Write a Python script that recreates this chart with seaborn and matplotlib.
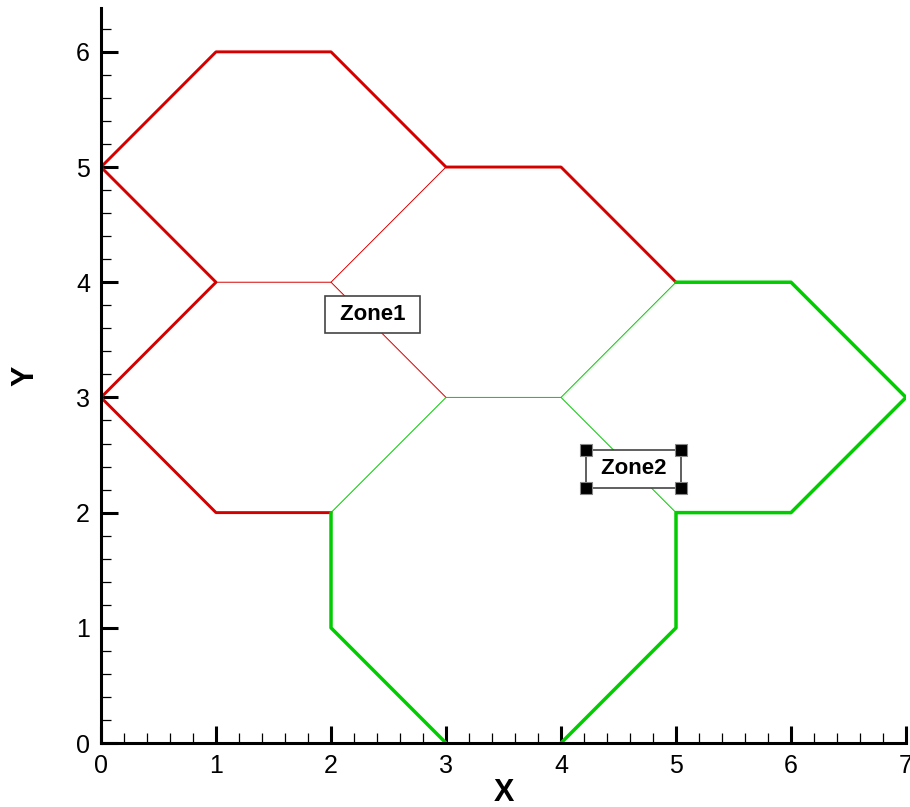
"""Dwie strefy siatki heksagonalnej (Zone1 / Zone2) - styl Tecplot"""

import pandas as pd
import seaborn as sns
import matplotlib.pyplot as plt
from matplotlib.ticker import MultipleLocator

# ===================== DANE =====================
# Zone1 (czerwona) - krawedzie zewnetrzne (grube)
zone1_outer_a_x = [0, 1, 2, 3, 4, 5]
zone1_outer_a_y = [5, 6, 6, 5, 5, 4]
zone1_outer_b_x = [0, 1, 0, 1, 2]
zone1_outer_b_y = [5, 4, 3, 2, 2]
# Zone1 - krawedzie wewnetrzne (cienkie)
zone1_inner_a_x = [1, 2, 3]
zone1_inner_a_y = [4, 4, 5]
zone1_inner_b_x = [2, 3]
zone1_inner_b_y = [4, 3]

# Zone2 (zielona) - krawedzie zewnetrzne (grube)
zone2_outer_a_x = [5, 6, 7, 6, 5, 5, 4]
zone2_outer_a_y = [4, 4, 3, 2, 2, 1, 0]
zone2_outer_b_x = [2, 2, 3]
zone2_outer_b_y = [2, 1, 0]
# Zone2 - krawedzie wewnetrzne (cienkie)
zone2_inner_a_x = [2, 3, 4, 5]
zone2_inner_a_y = [2, 3, 3, 4]
zone2_inner_b_x = [4, 5]
zone2_inner_b_y = [3, 2]

# etykiety stref
zone_labels = ["Zone1", "Zone2"]
zone_label_x = [2.36, 4.63]
zone_label_y = [3.72, 2.38]

RED = "#d40000"
GREEN = "#00cc00"


def do_ramki(segmenty):
    """Zamienia liste (x, y) na dlugi DataFrame z numerem odcinka."""
    wiersze = []
    for nr, (xs, ys) in enumerate(segmenty):
        for i, (x, y) in enumerate(zip(xs, ys)):
            wiersze.append({"seg": nr, "kolejnosc": i, "x": x, "y": y})
    return pd.DataFrame(wiersze)


df_z1_outer = do_ramki([(zone1_outer_a_x, zone1_outer_a_y), (zone1_outer_b_x, zone1_outer_b_y)])
df_z1_inner = do_ramki([(zone1_inner_a_x, zone1_inner_a_y), (zone1_inner_b_x, zone1_inner_b_y)])
df_z2_outer = do_ramki([(zone2_outer_a_x, zone2_outer_a_y), (zone2_outer_b_x, zone2_outer_b_y)])
df_z2_inner = do_ramki([(zone2_inner_a_x, zone2_inner_a_y), (zone2_inner_b_x, zone2_inner_b_y)])

# ===================== WYKRES =====================
sns.set_style("white")
plt.rcParams["font.family"] = ["Liberation Sans", "DejaVu Sans"]
plt.rcParams["text.color"] = "black"
plt.rcParams["axes.labelcolor"] = "black"
plt.rcParams["xtick.color"] = "black"
plt.rcParams["ytick.color"] = "black"

fig = plt.figure(figsize=(9.1, 8.07), dpi=100)
ax = fig.add_axes([0.111, 0.0793, 0.8846, 0.9107])

linie = [
    (df_z1_inner, RED, 0.7),
    (df_z2_inner, GREEN, 0.7),
    (df_z1_outer, RED, 2.1),
    (df_z2_outer, GREEN, 2.5),
]
for df, kolor, grubosc in linie:
    sns.lineplot(data=df, x="x", y="y", units="seg", estimator=None, sort=False,
                 color=kolor, linewidth=grubosc, ax=ax, legend=False)

teksty = []
for etykieta, tx, ty in zip(zone_labels, zone_label_x, zone_label_y):
    t = ax.text(tx, ty, " " + etykieta + " ", ha="center", va="center", fontsize=16,
                fontweight="bold", color="black", zorder=5,
                bbox=dict(boxstyle="square,pad=0.38", fc="white", ec="#444444", lw=1.2))
    teksty.append(t)

ax.set_xlim(0, 7)
ax.set_ylim(0, 6.38)

# osie w stylu Tecplot
for strona in ["top", "right"]:
    ax.spines[strona].set_visible(False)
for strona in ["left", "bottom"]:
    ax.spines[strona].set_linewidth(2.2)
    ax.spines[strona].set_color("black")
    ax.spines[strona].set_zorder(6)

ax.xaxis.set_major_locator(MultipleLocator(1))
ax.xaxis.set_minor_locator(MultipleLocator(0.2))
ax.yaxis.set_major_locator(MultipleLocator(1))
ax.yaxis.set_minor_locator(MultipleLocator(0.2))
ax.tick_params(which="major", direction="in", length=12, width=2.2, labelsize=18, pad=8,
               left=True, bottom=True, colors="black")
ax.tick_params(which="minor", direction="in", length=7, width=0.9, left=True, bottom=True,
               colors="black")

ax.set_xlabel("X", fontsize=22, fontweight="bold", color="black")
ax.set_ylabel("Y", fontsize=22, fontweight="bold", color="black")
ax.xaxis.set_label_coords(0.5, -0.047)
ax.yaxis.set_label_coords(-0.075, 0.5)
ax.grid(False)

# uchwyty zaznaczenia wokol ramki Zone2
fig.canvas.draw()
ramka = teksty[1].get_bbox_patch().get_window_extent()
rogi = ax.transData.inverted().transform(
    [[ramka.x0, ramka.y0], [ramka.x1, ramka.y0], [ramka.x0, ramka.y1], [ramka.x1, ramka.y1]])
df_rogi = pd.DataFrame(rogi, columns=["x", "y"])
sns.scatterplot(data=df_rogi, x="x", y="y", marker="s", s=80, color="black",
                edgecolor="#888888", linewidth=0.8, ax=ax, zorder=7, legend=False, clip_on=False)
ax.set_xlabel("X", fontsize=22, fontweight="bold", color="black")
ax.set_ylabel("Y", fontsize=22, fontweight="bold", color="black")

fig.savefig("out.png", dpi=100)
